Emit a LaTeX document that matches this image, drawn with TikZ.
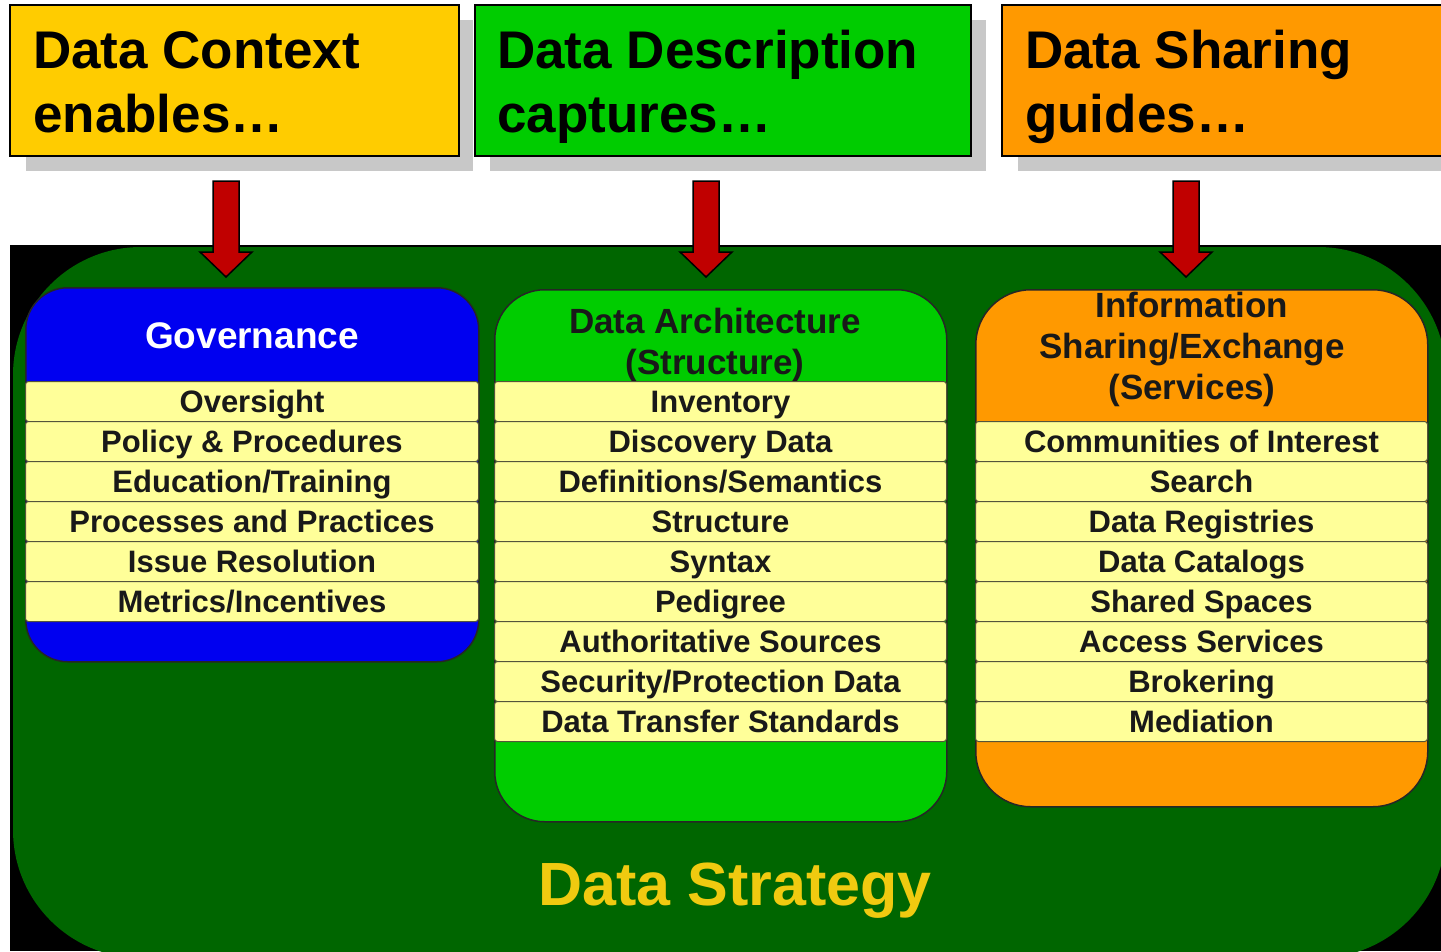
\documentclass[tikz,border=0pt]{standalone}
\usepackage{fontspec}
\setmainfont{Liberation Sans}
\definecolor{hdryellow}{HTML}{FFCC00}
\definecolor{hdrgreen}{HTML}{00CC00}
\definecolor{hdrorange}{HTML}{FF9900}
\definecolor{shadowgray}{HTML}{C8C8C8}
\definecolor{arrowred}{HTML}{C00000}
\definecolor{darkgreen}{HTML}{006600}
\definecolor{panelblue}{HTML}{0000F0}
\definecolor{rowyellow}{HTML}{FFFF99}
\definecolor{rowedge}{HTML}{55553A}
\definecolor{stratgold}{HTML}{F0CA10}
\begin{document}
\begin{tikzpicture}[x=1bp,y=-1bp,
  shadowbox/.style={fill=shadowgray, draw=none},
  hdrbox/.style={draw=black, line width=2bp, anchor=north west, inner sep=0pt, minimum height=151bp},
  hdrtext/.style={anchor=base west, inner sep=0pt, align=left, font=\fontsize{53bp}{64bp}\selectfont\bfseries},
  blockarrow/.style={fill=arrowred, draw=black, line width=1.5bp, line join=miter},
  panel/.style={draw=black!85, line width=1.5bp, inner sep=0pt, anchor=north west},
  paneltitle/.style={anchor=base, inner sep=0pt, align=center, font=\fontsize{35bp}{41bp}\selectfont\bfseries},
  rowbox/.style={draw=rowedge, fill=rowyellow, line width=1bp, rounded corners=3bp, minimum height=40bp,
    inner sep=0pt, anchor=north west, text height=22.2bp, text depth=0pt, text=black!90,
    font=\fontsize{31bp}{37bp}\selectfont\bfseries}
]
\useasboundingbox (0,0) rectangle (1441,951);
% header boxes
\fill[shadowbox] (26,20) rectangle (473,171);
\fill[shadowbox] (490,20) rectangle (986,171);
\fill[shadowbox] (1018,20) rectangle (1460,171);
\node[hdrbox, fill=hdryellow, minimum width=449bp] (ctx) at (9,4) {};
\node[hdrbox, fill=hdrgreen, minimum width=496bp] (desc) at (474,4) {};
\node[hdrbox, fill=hdrorange, minimum width=460bp] (shr) at (1001,4) {};
\node[hdrtext] (ctxt) at (33,132) {Data Context\\enables\ldots};
\node[hdrtext] (desct) at (497,132) {Data Description\\captures\ldots};
\node[hdrtext] (shrt) at (1025,132) {Data Sharing\\guides\ldots};
% background
\fill[black] (10,245) rectangle (1441,951);
\fill[darkgreen, rounded corners=128bp] (13,247) rectangle (1446,958);
% arrows
\foreach \n/\cx in {1/226,2/706,3/1186}{
  \coordinate (ar\n) at (\cx,181);
  \coordinate (tip\n) at (\cx,277);
  \draw[blockarrow] ([xshift=-13bp]ar\n) -- ([xshift=13bp]ar\n) -- ++(0,71) -- ++(13,0) -- (tip\n) -- ++(-26,-25) -- ++(13,0) -- cycle;
}
% panels
\node[panel, fill=panelblue, rounded corners=42bp, minimum width=453bp, minimum height=374bp] (gov) at (25,287) {};
\node[panel, fill=hdrgreen, rounded corners=50bp, minimum width=452bp, minimum height=532bp] (arch) at (494,289) {};
\node[panel, fill=hdrorange, rounded corners=55bp, minimum width=452bp, minimum height=517bp] (info) at (975,289) {};
\node[paneltitle, text=white, font=\fontsize{37bp}{41bp}\selectfont\bfseries] (govt) at (252,348) {Governance};
\node[paneltitle, text=black!90] (archt) at (715,374) {Data Architecture\\(Structure)};
\node[paneltitle, text=black!90] (infot) at (1192,399) {Information\\Sharing/Exchange\\(Services)};
% rows
\foreach \t [count=\i] in {Oversight, Policy \& Procedures, Education/Training, Processes and Practices, Issue Resolution, Metrics/Incentives}
  \node[rowbox, minimum width=453bp] (g\i) at (25,{381+40*(\i-1)}) {\t};
\foreach \t [count=\i] in {Inventory, Discovery Data, Definitions/Semantics, Structure, Syntax, Pedigree, Authoritative Sources, Security/Protection Data, Data Transfer Standards}
  \node[rowbox, minimum width=452bp] (a\i) at (494,{381+40*(\i-1)}) {\t};
\foreach \t [count=\i] in {Communities of Interest, Search, Data Registries, Data Catalogs, Shared Spaces, Access Services, Brokering, Mediation}
  \node[rowbox, minimum width=452bp] (s\i) at (975,{421+40*(\i-1)}) {\t};
% title
\node[anchor=base, inner sep=0pt, text=stratgold, font=\fontsize{61bp}{70bp}\selectfont\bfseries] (ds) at (735,905) {Data Strategy};
\end{tikzpicture}
\end{document}
